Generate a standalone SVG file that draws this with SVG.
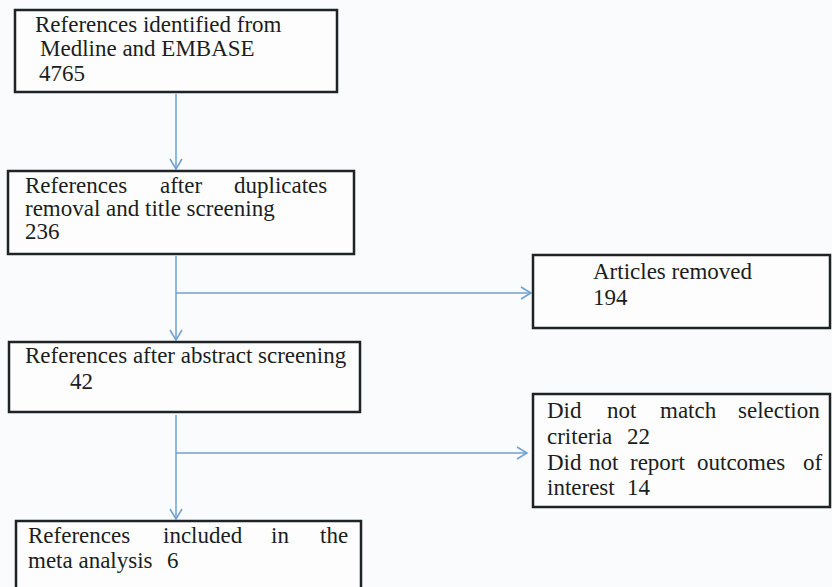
<svg xmlns="http://www.w3.org/2000/svg" width="832" height="587" viewBox="0 0 832 587">
<style>
.box{fill:#fdfdfe;stroke:#1e2326;stroke-width:2.5}
text{font-family:"Times New Roman","Liberation Serif","DejaVu Serif",serif;font-size:23px;fill:#1b1d20}
.c{fill:none;stroke:#6f9fd2;stroke-width:1.5}
</style>
<defs>
<marker id="ah" markerUnits="userSpaceOnUse" markerWidth="14" markerHeight="14" refX="11" refY="7" orient="auto">
<path d="M1,1 L11,7 L1,13" fill="none" stroke="#6f9fd2" stroke-width="1.5"/>
</marker>
</defs>
<rect width="832" height="587" fill="#fafbfd"/>
<g id="connectors">
<path class="c" d="M176,94 V169" marker-end="url(#ah)"/>
<path class="c" d="M176,256 V340" marker-end="url(#ah)"/>
<path class="c" d="M176,293 H531" marker-end="url(#ah)"/>
<path class="c" d="M176,415 V519" marker-end="url(#ah)"/>
<path class="c" d="M176,453 H527" marker-end="url(#ah)"/>
</g>
<g id="n1">
<rect class="box" x="15" y="10" width="322" height="82"/>
<text x="35" y="32">References identified from</text>
<text x="40" y="56">Medline and EMBASE</text>
<text x="39" y="81">4765</text>
</g>
<g id="n2">
<rect class="box" x="8" y="171" width="346" height="83"/>
<text x="25" y="193"><tspan>References</tspan> <tspan x="160">after</tspan> <tspan x="234">duplicates</tspan></text>
<text x="25" y="216">removal and title screening</text>
<text x="25" y="239">236</text>
</g>
<g id="n3">
<rect class="box" x="9" y="342" width="351" height="70"/>
<text x="25" y="363">References after abstract screening</text>
<text x="70" y="389">42</text>
</g>
<g id="n4">
<rect class="box" x="16" y="521" width="345" height="80"/>
<text x="28" y="543"><tspan>References</tspan> <tspan x="163">included</tspan> <tspan x="271">in</tspan> <tspan x="320">the</tspan></text>
<text x="28" y="568">meta analysis <tspan x="167">6</tspan></text>
</g>
<g id="n5">
<rect class="box" x="533" y="255" width="297" height="73"/>
<text x="593" y="279">Articles removed</text>
<text x="593" y="305">194</text>
</g>
<g id="n6">
<rect class="box" x="533" y="394" width="297" height="113"/>
<text x="547" y="418"><tspan>Did</tspan> <tspan x="607">not</tspan> <tspan x="660">match</tspan> <tspan x="738">selection</tspan></text>
<text x="547" y="444">criteria <tspan x="627">22</tspan></text>
<text x="547" y="470"><tspan>Did</tspan> <tspan x="589">not</tspan> <tspan x="630">report</tspan> <tspan x="697">outcomes</tspan> <tspan x="803">of</tspan></text>
<text x="547" y="495">interest <tspan x="627">14</tspan></text>
</g>
</svg>
